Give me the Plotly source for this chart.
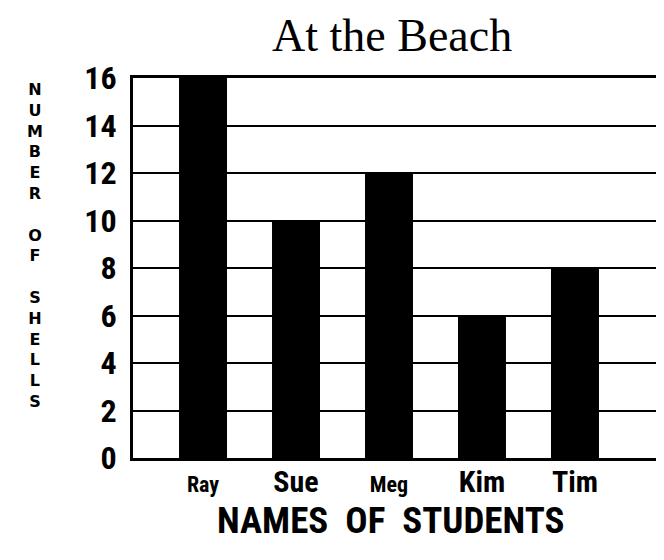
import plotly.graph_objects as go

names = ["Ray", "Sue", "Meg", "Kim", "Tim"]
shells = [16, 10, 12, 6, 8]
name_sizes = [22, 30, 22, 30, 30]
y_ticks = [0, 2, 4, 6, 8, 10, 12, 14, 16]
title = "At the Beach"
x_title = "NAMES&nbsp;&nbsp;OF&nbsp;&nbsp;STUDENTS"
y_title = "NUMBER OF SHELLS"

NARROW = "Liberation Sans Narrow, Arial Narrow, Roboto Condensed, Liberation Sans, sans-serif"

W, H = 664, 560
OFF = 8  # page body margin offsets the figure in the window
# plot area in window pixels: x 133..661, y 78..458
L = 133 - OFF
T = 78 - OFF
R = W - (661 - OFF)
B = H - (458 - OFF)

fig = go.Figure()
fig.add_trace(go.Bar(
    x=list(range(len(names))), y=shells,
    width=0.516, marker=dict(color="black", line=dict(width=0)),
    hoverinfo="skip"))

ticktext = [f'<span style="font-size:{s}px">{n}</span>' for n, s in zip(names, name_sizes)]

fig.update_layout(
    width=W, height=H,
    margin=dict(l=L, r=R, t=T, b=B, pad=0, autoexpand=False),
    paper_bgcolor="white", plot_bgcolor="white",
    showlegend=False,
)
fig.update_xaxes(
    range=[-0.753, 4.925], automargin=False,
    tickmode="array", tickvals=list(range(len(names))), ticktext=ticktext,
    tickfont=dict(family=NARROW, size=26, color="black", weight="bold"),
    ticks="", showgrid=False, zeroline=False,
    showline=True, linecolor="black", linewidth=3, mirror=True,
)
fig.update_yaxes(
    range=[0, 16], automargin=False,
    tickmode="array", tickvals=y_ticks, ticktext=[str(v) for v in y_ticks],
    tickfont=dict(family=NARROW, size=32, color="black", weight="bold"),
    ticks="outside", ticklen=7, tickcolor="rgba(0,0,0,0)",
    showgrid=True, gridcolor="black", gridwidth=2, zeroline=False,
    showline=True, linecolor="black", linewidth=3, mirror=True,
)

ph = H - T - B
pw = W - L - R

def win_to_paper(px, py):
    fx, fy = px - OFF, py - OFF
    return (fx - L) / pw, (H - B - fy) / ph

tx, _ = win_to_paper(392, 27)
fig.add_annotation(text=title, xref="paper", yref="paper", x=tx, y=(H - B) / ph,
                   xanchor="center", yanchor="top", showarrow=False,
                   font=dict(family="Liberation Serif, Times New Roman, serif", size=46, color="black"))

ax, ay = win_to_paper(390, 520)
fig.add_annotation(text=x_title, xref="paper", yref="paper", x=ax, y=ay,
                   xanchor="center", yanchor="middle", showarrow=False,
                   font=dict(family=NARROW, size=37, color="black", weight="bold"))

stack = "<br>".join(ch if ch != " " else "&nbsp;" for ch in y_title)
sx, sy = win_to_paper(35, 245)
fig.add_annotation(
    text=stack, xref="paper", yref="paper", x=sx, y=sy,
    xanchor="center", yanchor="middle", showarrow=False, align="center",
    font=dict(family="DejaVu Sans, Liberation Sans, sans-serif", size=16, color="black", weight="bold"))

fig.write_html("out.html")
